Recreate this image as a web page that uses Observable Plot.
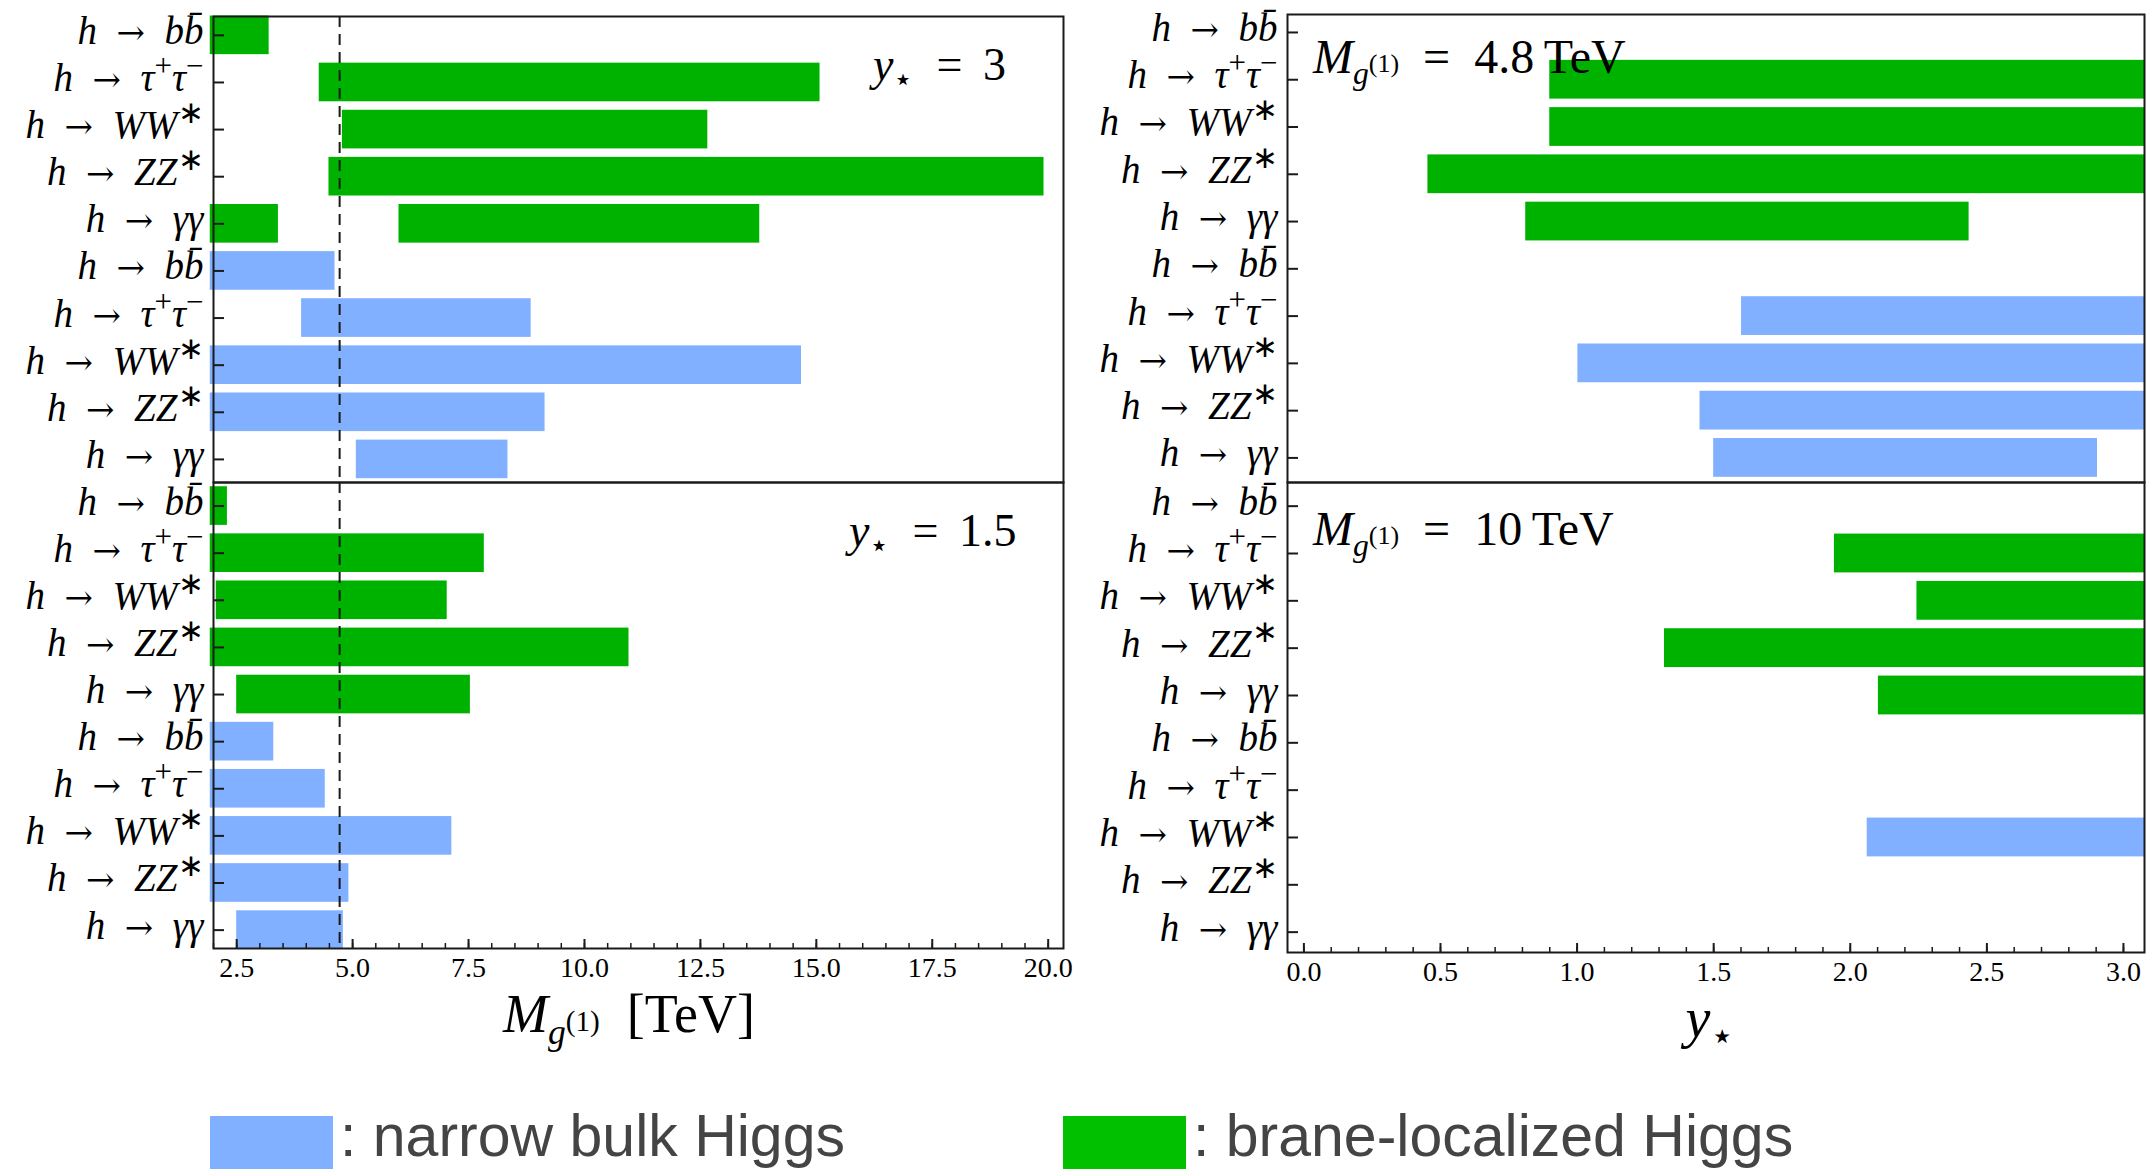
<!DOCTYPE html>
<html>
<head>
<meta charset="utf-8">
<script src="https://cdn.jsdelivr.net/npm/d3@7"></script>
<script src="https://cdn.jsdelivr.net/npm/@observablehq/plot@0.6"></script>
<style>
  html, body { margin: 0; padding: 0; background: #fff; }
  #root { position: relative; width: 2148px; height: 1172px; overflow: hidden; font-family: "Liberation Serif", serif; color: #000; }
  .abs { position: absolute; line-height: 1; white-space: nowrap; }
  .panel { position: absolute; }
  .ann i, .ttl i { font-style: italic; }
  sub, sup { line-height: 0; }
  .leg { font-family: "Liberation Sans", Arial, sans-serif; color: #444; font-size: 58px; }
  .sw { position: absolute; }
</style>
</head>
<body>
<div id="root"></div>
<script>
// ---------------- data ----------------
// row labels (top to bottom inside each group); group 1 = brane-localized, group 2 = narrow bulk
const channelLabels = ["h → bb̄", "h → τ+τ−", "h → WW*", "h → ZZ*", "h → γγ"];
const models = ["bulk", "brane"];
const modelColors = ["#80b0ff", "#00b200"];
const legendLabels = [": narrow bulk Higgs", ": brane-localized Higgs"];

// excluded intervals: [channel index, start, end]
// left column: x = M_g(1) [TeV]
const ystar3_brane  = [[0, 1.93, 3.20], [1, 4.28, 15.08], [2, 4.78, 12.66], [3, 4.49, 19.91], [4, 1.93, 3.40], [4, 6.00, 13.78]];
const ystar3_bulk   = [[0, 1.93, 4.62], [1, 3.90, 8.85], [2, 1.93, 14.68], [3, 1.93, 9.15], [4, 5.08, 8.35]];
const ystar15_brane = [[0, 1.93, 2.30], [1, 1.93, 7.84], [2, 2.06, 7.04], [3, 1.93, 10.96], [4, 2.50, 7.54]];
const ystar15_bulk  = [[0, 1.93, 3.30], [1, 1.93, 4.41], [2, 1.93, 7.14], [3, 1.93, 4.92], [4, 2.50, 4.80]];
// right column: x = y_star
const m48_brane = [[1, 0.900, 3.08], [2, 0.900, 3.08], [3, 0.454, 3.08], [4, 0.812, 2.435]];
const m48_bulk  = [[1, 1.602, 3.08], [2, 1.003, 3.08], [3, 1.450, 3.08], [4, 1.500, 2.905]];
const m10_brane = [[1, 1.942, 3.08], [2, 2.244, 3.08], [3, 1.320, 3.08], [4, 2.103, 3.08]];
const m10_bulk  = [[2, 2.062, 3.08]];

const massLine = [4.72];   // dashed reference line in the left column
const massTicks = [2.5, 5.0, 7.5, 10.0, 12.5, 15.0, 17.5, 20.0];
const ystarTicks = [0.0, 0.5, 1.0, 1.5, 2.0, 2.5, 3.0];

// ---------------- drawing ----------------
const FRAME = "#1a1a1a";
const BAR_HALF = 0.41;
const rowIdx = d3.range(10);

const labelParts = {
  "h → bb̄":  [["h","i"],["\u2002","n"],["→","arrow"],["\u2002","n"],["b","i"],["b\u0304","i"]],
  "h → τ+τ−": [["h","i"],["\u2002","n"],["→","arrow"],["\u2002","n"],["τ","i"],["+","sup"],["τ","i"],["−","sup"]],
  "h → WW*":  [["h","i"],["\u2002","n"],["→","arrow"],["\u2002","n"],["WW","i"],["∗","sup"]],
  "h → ZZ*":  [["h","i"],["\u2002","n"],["→","arrow"],["\u2002","n"],["ZZ","i"],["∗","sup"]],
  "h → γγ":   [["h","i"],["\u2002","n"],["→","arrow"],["\u2002","n"],["γγ","i"]]
};

function panel(o) {
  const data = [
    ...o.brane.map(([c, a, b]) => ({row: c, a, b, model: "brane"})),
    ...o.bulk.map(([c, a, b]) => ({row: c + 5, a, b, model: "bulk"}))
  ];
  const fw = o.width - o.ml - o.mr;
  const fh = o.height - o.mt - o.mb;
  const marks = [
    Plot.rectX(data, {x1: "a", x2: "b", y1: d => d.row - BAR_HALF, y2: d => d.row + BAR_HALF, fill: "model"})
  ];
  if (o.dashed) marks.push(Plot.ruleX(o.dashed, {stroke: FRAME, strokeWidth: 2, strokeDasharray: "11,7"}));
  marks.push(Plot.tickY(rowIdx, {y: d => d, insetRight: fw - 11, stroke: FRAME, strokeWidth: 2}));
  marks.push(Plot.axisY(rowIdx, {tickFormat: i => channelLabels[i % 5], tickSize: 0, tickPadding: 10, fontSize: 39, dy: -4, label: null}));
  if (o.xTicks) {
    marks.push(Plot.tickX(o.xMinor, {x: d => d, insetTop: fh - 5, stroke: FRAME, strokeWidth: 1.5}));
    marks.push(Plot.tickX(o.xTicks, {x: d => d, insetTop: fh - 9, stroke: FRAME, strokeWidth: 2}));
    marks.push(Plot.axisX(o.xTicks, {tickSize: 0, tickPadding: 9, fontSize: 28, tickFormat: d3.format(".1f"), label: null}));
  }
  marks.push(Plot.frame({stroke: FRAME, strokeWidth: 2}));
  const svg = Plot.plot({
    width: o.width, height: o.height,
    marginLeft: o.ml, marginRight: o.mr, marginTop: o.mt, marginBottom: o.mb,
    style: {background: "transparent", overflow: "visible", fontFamily: "'Liberation Serif', serif", color: "#000"},
    x: {domain: o.xDomain, ...(o.xTicks ? {} : {axis: null})},
    y: {domain: o.yDomain, reverse: true},
    color: {domain: models, range: modelColors},
    marks
  });
  // typeset the decay-channel labels with italics and superscripts
  d3.select(svg).selectAll('g[aria-label="y-axis tick label"] text').each(function () {
    const parts = labelParts[this.textContent];
    if (!parts) return;
    const t = d3.select(this);
    t.text(null);
    let shifted = false;
    for (const [s, kind] of parts) {
      const sp = t.append("tspan").text(s);
      if (kind === "sup") {
        sp.attr("dy", -15).style("font-size", "31px").attr("font-style", "normal");
        shifted = true;
      } else {
        if (shifted) { sp.attr("dy", 15); shifted = false; }
        if (kind === "arrow") sp.attr("font-family", "'DejaVu Serif', serif").style("font-size", "34px").attr("font-style", "normal");
        else sp.attr("font-style", kind === "i" ? "italic" : "normal");
      }
    }
  });
  const wrap = document.createElement("div");
  wrap.className = "panel";
  wrap.style.left = o.left + "px";
  wrap.style.top = o.top + "px";
  wrap.style.width = o.width + "px";
  wrap.appendChild(svg);
  return wrap;
}

const root = document.getElementById("root");
const massDomain = [2.0, 20.33];
const ystarDomain = [-0.06, 3.077];
const massMinor = d3.range(2.0, 20.3, 0.5);
const ystarMinor = d3.range(0, 3.05, 0.1);

root.appendChild(panel({left: 0, top: 0, width: 1070, height: 482, ml: 213, mr: 7, mt: 16, mb: 0,
  brane: ystar3_brane, bulk: ystar3_bulk, xDomain: massDomain, yDomain: [-0.40, 9.49], dashed: massLine}));
root.appendChild(panel({left: 0, top: 482, width: 1070, height: 526, ml: 213, mr: 7, mt: 0, mb: 60,
  brane: ystar15_brane, bulk: ystar15_bulk, xDomain: massDomain, yDomain: [-0.50, 9.39], dashed: massLine,
  xTicks: massTicks, xMinor: massMinor}));
root.appendChild(panel({left: 1075, top: 0, width: 1073, height: 482, ml: 212, mr: 4, mt: 14, mb: 0,
  brane: m48_brane, bulk: m48_bulk, xDomain: ystarDomain, yDomain: [-0.38, 9.52]}));
root.appendChild(panel({left: 1075, top: 482, width: 1073, height: 530, ml: 212, mr: 4, mt: 0, mb: 60,
  brane: m10_brane, bulk: m10_bulk, xDomain: ystarDomain, yDomain: [-0.50, 9.43],
  xTicks: ystarTicks, xMinor: ystarMinor}));

// ---------------- annotations, axis titles, legend ----------------
function addHTML(html, cls, style) {
  const d = document.createElement("div");
  d.className = "abs " + cls;
  d.innerHTML = html;
  Object.assign(d.style, style);
  root.appendChild(d);
}
const ystar = '<i>y</i><sub style="font-size:70%">⋆</sub>';
const mg1 = '<i>M</i><sub style="font-size:66%"><i>g</i><sup style="font-size:82%">(1)</sup></sub>';

addHTML(ystar + "&ensp;=&thinsp; 3", "ann", {left: "873px", top: "42px", fontSize: "46px"});
addHTML(ystar + "&ensp;=&thinsp; 1.5", "ann", {left: "849px", top: "508px", fontSize: "46px"});
addHTML(mg1 + "&ensp;=&ensp;4.8&thinsp;TeV", "ann", {left: "1313px", top: "33px", fontSize: "48px"});
addHTML(mg1 + "&ensp;=&ensp;10&thinsp;TeV", "ann", {left: "1313px", top: "505px", fontSize: "48px"});

addHTML(mg1 + "&nbsp; [TeV]", "ttl", {left: "629px", top: "987px", fontSize: "54px", transform: "translateX(-50%)"});
addHTML(ystar, "ttl", {left: "1710px", top: "990px", fontSize: "56px", transform: "translateX(-50%)"});

function swatch(x, color) {
  const s = document.createElement("div");
  s.className = "sw";
  Object.assign(s.style, {left: x + "px", top: "1116px", width: "123px", height: "53px", background: color});
  root.appendChild(s);
}
swatch(210, "#80b0ff");
addHTML(legendLabels[0], "leg", {left: "340px", top: "1107px", fontSize: "59px"});
swatch(1063, "#00c000");
addHTML(legendLabels[1], "leg", {left: "1193px", top: "1107px", fontSize: "59px"});
</script>
</body>
</html>
